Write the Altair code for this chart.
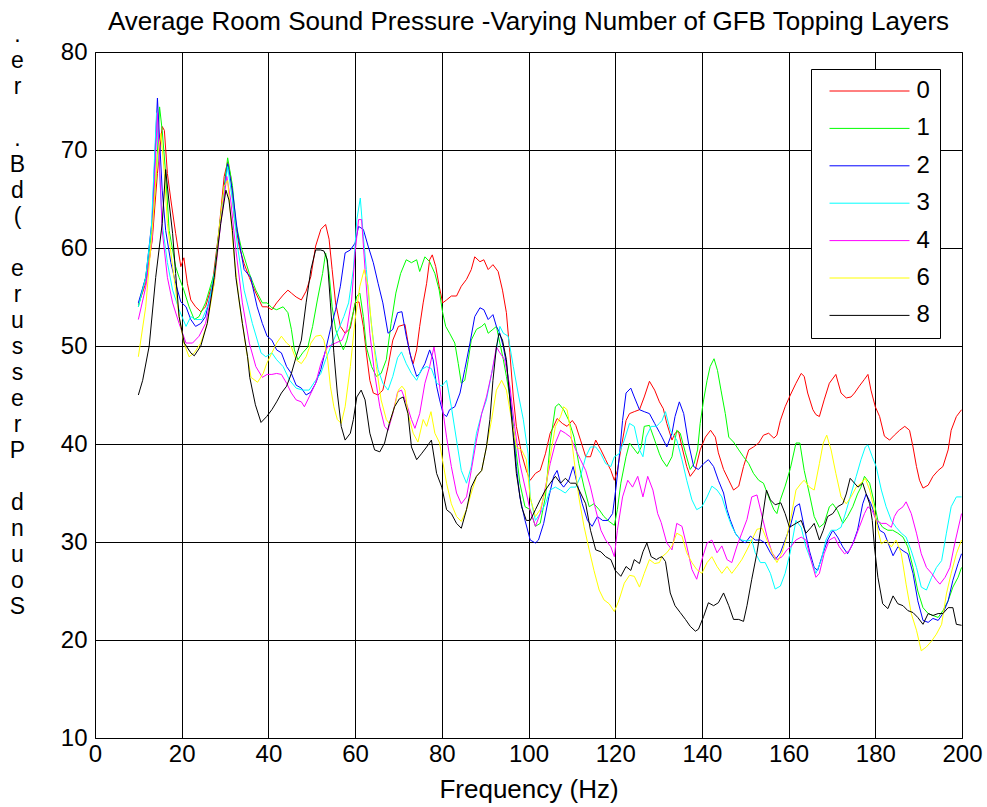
import altair as alt
import pandas as pd

# ---- data (frequency Hz, level dB) ----
S0 = [(10,54.2),(11.7,56.4),(13.2,60.8),(14.4,67.6),(15.5,72.4),(16,72),(16.7,67.6),(17.5,64.9),(18.6,61.5),(19.8,58.1),(20.5,59),(21.3,56.4),(22.1,54.7),(23.2,54),(24.4,53.5),(25.5,54),(27.1,56.4),(28.6,61.8),(29.8,67.3),(30.6,68.8),(31.3,67.3),(32.1,63.2),(33.3,60.1),(34.4,58.4),(35.6,57),(37.1,55.4),(38.6,54),(39.7,54),
      (40.8,53.7),(41.9,54.4),(43.4,55.2),(44.5,55.7),(45.3,55.4),(46.4,55),(47.6,54.7),(48.7,55.6),(49.8,57.1),(50.9,60.2),(52.1,61.9),(53.2,62.4),(54,60.9),(54.7,57.8),(55.5,54.4),(56.6,52),(57.7,51.3),(58.9,51.8),(60,54.4),(60.9,54.5),(61.9,52),(62.6,49.3),(63.4,46.5),(64.2,45.2),(65.3,45),(66.4,45.5),(67.6,47.9),(68.7,50.6),
      (70,52),(71.5,52.2),(72.6,49.3),(73.4,48.2),(74.2,49.6),(74.9,52),(75.7,54.4),(76.5,56.4),(77.2,58.8),(77.8,59.3),(78.6,58.1),(79.4,56.1),(80.2,54.4),(81.1,54.7),(82.2,55.1),(83.4,55.1),(84.5,56.1),(85.7,56.8),(86.8,57.8),(87.6,59.1),(88.8,58.6),(89.7,58.8),(90.7,57.8),(91.8,58.3),(93,57.6),(94,55.7),(94.9,53.4),(95.7,49.3),(96.5,44.8),(97.2,41.8),(98.4,39),(99.5,37.3),
      (100.4,36.3),(101.6,37),(102.7,37.3),(103.9,39),(105,41.1),(105.8,41.8),(106.6,42.6),(107.8,42.1),(108.9,41.8),(110.1,42.4),(110.9,41.9),(112,40.4),(113.2,38.7),(114.3,38.7),(115.5,40.4),(116.7,39.4),(117.8,38.4),(119,37.3),(119.8,36.3),(120.5,37.3),(121.3,39.4),(122.5,42.4),(123.3,43.1),(124.4,43.3),(125.6,43.5),(126.7,44.8),(127.9,46.4),(129.1,45.5),
      (130.2,44.3),(131.1,43.6),(131.9,42.1),(133.1,40.4),(133.8,41.1),(134.6,41.3),(135.4,39.7),(136.5,37.7),(137.3,36.7),(138.5,37.4),(139.6,39.4),(140.8,40.7),(142,41.4),(143.1,40.7),(143.8,39.1),(145,37.4),(146.2,36.3),(147.3,35.3),(148.5,35.7),(149.6,37.7),(150.8,39.4),(151.9,39.7),(153.1,40.1),(154.2,40.9),(155.4,41.1),(156.6,40.6),(157.3,40.9),(158.1,42.4),(159.2,43.8),
      (160.4,45),(161.7,46.2),(162.9,47.2),(163.6,46.9),(164.4,45.2),(165.6,43.5),(166.3,43),(167.1,42.8),(168.2,44.5),(169.4,46.2),(170.9,47.1),(172.1,45.2),(173.3,44.7),(174.4,44.8),(175.2,45.2),(176.3,45.9),(177.5,46.6),(178.3,47.1),(179,45.5),(180,43.8),(181,42.8),(182.1,40.8),(183.3,40.4),(184.4,40.9),(185.6,41.4),(186.8,41.8),(187.9,41.4),(188.7,39.7),(189.5,37.7),(190.2,36.3),(191,35.5),(192.2,35.8),(193.3,36.7),(194.5,37.3),(195.6,37.7),(196.8,39.4),(197.5,41.4),(198.7,42.8),(199.9,43.5)]

S1 = [(10,54),(11.7,57),(13.2,62),(14.2,68),(14.9,74.4),(15.5,72),(16.3,67.6),(17.1,61.8),(18.6,58.1),(19.4,57),(20.5,55.7),(21.7,54),(22.9,52.7),(24,53),(25.5,54.4),(27.5,57.4),(29,63.2),(30.6,69.2),(31.7,66.4),(32.5,62.5),(33.7,60.1),(35.6,57.4),(37.1,55.7),(38.6,54.4),(39.7,54.4),
      (40.8,53.9),(41.9,53.7),(43.4,54),(44.5,53.4),(45.3,51.7),(46,49.6),(46.8,48.6),(47.9,49.3),(49.1,49.9),(50.2,52),(51.3,54.7),(52.5,57.4),(53.2,59.5),(54,57.4),(54.7,54),(55.5,51.7),(56.6,50.3),(57.3,49.6),(58.1,50.6),(59.2,52.7),(60.4,55.1),(61.1,55.4),(61.9,53),(62.6,49.9),(63.8,47.9),(64.9,46.9),(66,47.2),(67.2,48.6),(68.3,52.3),(69.4,55.4),
      (70.5,57.4),(71.8,58.8),(73,58.5),(74.2,58.8),(74.9,57.6),(76.1,59.1),(77.2,58.6),(78.4,57.4),(79.4,55.7),(80.2,53.4),(80.9,52),(81.8,51.3),(83,50.3),(83.8,48.2),(84.5,46.2),(85.3,46.5),(86.1,48.6),(86.8,50.6),(88,51.7),(89.2,52),(89.9,52.3),(90.7,51.3),(91.8,51.7),(92.6,52),(93.4,50.3),(94.2,48.6),(94.9,46.9),(95.7,44.8),(96.5,41.8),(97.2,39),(98,36),(99.2,33.6),
      (100.4,33.3),(101.6,31.6),(102.7,31.9),(103.9,34.6),(105,40.1),(106.2,43.8),(107,44.1),(108.1,43.5),(109.3,42.4),(110.5,40.7),(111.6,38),(112.8,35.6),(114,33.6),(115.1,33.9),(116.3,33.3),(117.4,32.6),(118.6,32.1),(119.8,31.7),(120.5,33.3),(121.3,36),(122.5,38.7),(123.3,40.1),(124,39.7),(125.2,39),(126,39.7),(126.7,41.8),(127.9,41.9),(129.1,40.4),
      (130.2,39),(130.8,38.4),(131.9,37.7),(133.1,38.7),(134.2,41.4),(135,41.1),(136.2,39.1),(137.3,37.4),(138.2,38),(139,39.4),(139.6,42.1),(140.4,44.5),(141.2,46.5),(141.9,47.9),(142.8,48.7),(143.6,47.5),(144.4,45.5),(145.4,43.1),(146.2,40.7),(147.3,40.2),(148.5,39.4),(149.6,38.7),(150.8,38),(151.9,37),(153.1,36.3),(154.2,36),(155.4,34.6),(156.6,33.3),(157.3,32.9),(158.1,34.3),(159.2,35.7),
      (160.4,37.5),(161.7,40.1),(162.6,40.1),(163.6,37.3),(164.8,34.9),(165.9,32.6),(167.1,31.5),(168.2,31.9),(169.4,33.6),(170.2,33.9),(171.3,33.2),(172.5,31.9),(173.6,32.6),(174.8,33.6),(175.9,34.9),(176.7,35.6),(177.5,36.7),(178.7,36),(179.6,34.3),(180.6,32.2),(181.7,31.5),(182.9,31.2),(184,31.2),(185.2,30.9),(186.4,30.5),(187.5,29.5),(188.7,27.4),(189.8,25),(191,23.3),(192.2,22.7),(193.3,22.5),(194.5,22.3),(195.6,23),(196.8,24),(197.9,25.4),(199.1,26.4),(199.9,27.4)]

S2 = [(10,54.4),(11.7,57),(13.2,63),(14.4,75.3),(15.5,65.9),(16.3,61.8),(17.5,58.5),(18.6,56.4),(19.8,54.5),(21,54),(22.1,52.7),(23.2,52),(24.4,52.3),(25.5,53),(27.5,57),(29,63.2),(30.6,68.6),(31.7,65.9),(32.9,61.5),(34.4,57.8),(35.9,57),(37.4,54),(38.6,52.3),(39.7,51),
      (40.8,50.6),(41.9,49.6),(43,49.3),(44.2,47.9),(45.3,47.2),(46.4,46),(47.6,45.7),(48.7,45),(49.8,45.3),(50.9,46.2),(52.1,47.6),(53.2,49.6),(54.3,51.7),(55.5,53.7),(56.6,56.1),(57.7,59.5),(58.9,59.8),(60,60.5),(60.8,62.2),(61.9,61.9),(63,60.2),(64.2,58.5),(65.3,56.4),(66.4,54.4),(67.6,51.3),(68.7,51.7),(69.8,53.4),
      (70.8,53.5),(71.8,51),(73,48.6),(74.2,46.9),(74.9,47.2),(76.1,48.2),(77.2,49.6),(78,48.6),(78.8,45.9),(79.5,44.5),(80.3,43.1),(81.1,42.8),(81.8,43.5),(83,43.8),(84.2,45.2),(85.3,47.6),(86.5,50.3),(87.6,53),(88.8,53.9),(89.7,53.7),(90.7,52.7),(91.8,53.2),(92.6,52),(93.4,51.3),(94.2,49.9),(94.9,48.2),(95.7,45.2),(96.5,41.4),(97.2,37.7),(98,34.6),(99.2,32.2),
      (100.4,30.2),(101.6,29.9),(102.3,30.2),(103.5,31.9),(104.7,34.6),(105.8,36.7),(106.6,37.3),(107.4,36),(108.1,35.6),(109.3,36.3),(110.3,37.7),(111.2,36),(112.4,33.9),(113.6,32.2),(114.7,31.6),(115.9,32.6),(117.1,32.2),(118.3,32.2),(119.4,32.9),(120.2,35.6),(121,39),(121.7,42.4),(122.5,45.2),(123.6,45.7),(124.4,44.8),(125.6,43.5),(126.7,43.3),(127.9,43.1),(129.1,42.1),
      (130.2,41.2),(130.8,40.7),(131.9,39.7),(133.1,41.1),(133.8,42.8),(134.8,44.3),(135.8,43.1),(136.9,40.1),(138.1,37.7),(139.2,37.4),(140.4,38),(141.5,38.4),(142.7,37.7),(143.8,36.3),(145,35),(145.8,33.3),(146.5,32.3),(147.7,30.9),(148.9,30.2),(150,29.9),(151.2,30.6),(152.3,30.2),(153.5,30.2),(154.6,29.9),(155.8,28.9),(156.9,28.2),(158.1,28.9),(159.2,30.2),
      (160.4,31.6),(161.5,33.6),(162.5,33.9),(163.6,31.5),(164.8,29.1),(165.9,27.4),(166.7,27.1),(167.9,28.8),(169,30.2),(170.2,31.2),(171.3,30.5),(172.5,29.5),(173.6,28.8),(174.8,29.8),(175.9,31.2),(177.1,33.9),(177.9,34.9),(179,33.9),(179.8,32.9),(181,31.2),(182.1,30.9),(183.3,29.5),(184.1,28.6),(185.2,29.5),(186.4,29.1),(187.5,28.8),(188.7,26.8),(189.8,24),(191,22),(192.2,21.8),(193.3,22.2),(194.5,22),(195.6,22.7),(196.8,24),(197.9,26.1),(199.1,27.8),(199.9,28.8)]

S3 = [(10,54),(11.7,57),(13,62),(14.2,73.8),(15.5,62.5),(16.7,58.5),(17.9,55.7),(19.4,53.7),(21,52),(22.1,53),(23.2,52.7),(24.7,52.7),(26.3,54.4),(27.8,58.1),(29.3,63.9),(30.6,68.3),(31.7,64.9),(32.9,60.1),(34.4,55.7),(36.3,52.3),(38.3,49.3),(39.4,48.9),
      (40.8,49.3),(41.9,48.6),(43.4,47.9),(44.9,46.5),(46.4,45.7),(47.9,45.5),(49.4,45.5),(50.9,46.5),(52.1,47.2),(53.2,48.6),(54.7,50.3),(56.2,51.7),(57.4,53),(58.5,54.4),(59.6,57.8),(60.4,62.9),(61.2,65.1),(61.9,61.2),(62.6,57.8),(63.4,53.7),(64.2,50.6),(65.3,47.6),(66.4,46.2),(67.6,45.5),(68.7,46.9),(69.8,48.8),
      (70.7,49.4),(71.8,48.2),(73,47.2),(74.2,46.5),(75.3,47.6),(76.5,47.9),(77.6,47.7),(78.8,46.2),(80,45.9),(81.1,46.5),(82.2,43.8),(83.4,40.4),(84.5,37.3),(85.7,36),(86.8,37.7),(88,41.1),(89.2,43.1),(90.3,44.5),(91.5,47.2),(92.6,49.6),(93.4,52),(94.2,51.3),(95.3,51),(96.5,47.9),(97.6,45.2),(98.8,42.5),(99.9,39),
      (100.4,34.6),(101.6,32.2),(102.7,32.9),(103.9,33.9),(105,35.3),(106.2,35.6),(107.4,35.3),(108.5,35),(109.7,35.6),(110.9,35.6),(112,36.7),(113.2,38.7),(114.3,39.7),(115.5,39.7),(116.7,39),(117.8,38),(119,37.7),(119.8,38.7),(120.9,39),(122.1,40.4),(123.3,42.1),(124.4,41.8),(125.6,39.4),(126.4,38.7),(127.1,40.7),(128.3,41.8),(129.5,41.8),
      (130.2,42.1),(130.8,42.4),(131.6,43.3),(132.7,41.4),(134.2,40.4),(135.4,38.4),(136.5,36.3),(137.7,34.3),(138.8,33.3),(140,33.6),(141.2,34.6),(142.3,35.7),(143.5,35.3),(144.6,34.6),(145.8,32.9),(146.9,31.6),(148.1,30.6),(149.2,30.2),(150.4,30.1),(151.5,30.2),(152.3,28.9),(153.5,27.9),(154.6,27.9),(155.8,26.8),(156.9,25.2),(158.1,25.5),(159.2,26.8),
      (160.4,29),(161.7,32.2),(162.9,31.5),(164,29.5),(165.2,28.1),(166.3,26.8),(167.5,28.1),(168.6,30.2),(169.8,31.2),(171,31.2),(172.1,31.5),(173.3,33.2),(174.4,34.9),(175.6,36.7),(176.7,38.4),(177.7,39.7),(178.3,39.9),(179.3,38.7),(180.2,37.7),(181.4,35.3),(182.5,33.6),(183.7,32.2),(184.8,31.5),(186,30.9),(187.1,30.5),(188.3,29.1),(189.5,27.4),(190.6,25.4),(191.8,25.1),(193,26.4),(194.1,27.4),(195.3,28.1),(196.4,30.9),(197.5,33.6),(198.7,34.6),(199.9,34.6)]

S4 = [(10,52.7),(11.7,56),(13.2,61),(14.4,73.8),(15.5,61.8),(16.7,57),(17.9,54.4),(19.4,52.3),(21,50.3),(22.5,50.3),(24,51),(25.5,52.3),(27.5,56.4),(29,62.5),(30.4,67.3),(31.3,64.9),(32.5,59.8),(34,54.4),(35.6,50.3),(37.1,47.9),(38.6,46.8),(39.7,47.1),
      (40.8,47.1),(41.9,47.2),(43,47.1),(44.2,46.2),(45.3,45.2),(46.4,44.5),(47.6,44.3),(48.3,43.8),(49.4,44.8),(50.9,46.2),(52.1,48.2),(53.6,49.9),(55.5,50.3),(57,50.6),(58.1,51.7),(59.2,54.7),(60,59.5),(60.8,62.9),(61.5,62.9),(62.3,57.8),(63.4,51.3),(64.5,47.2),(65.7,43.8),(66.8,41.8),(67.6,41.4),(68.7,43.1),(69.8,45.3),
      (70.7,45.5),(71.8,44.2),(73,42.5),(73.8,41.6),(74.9,43.1),(76.1,46.2),(77.2,47.9),(78.2,49.9),(78.9,47.9),(79.9,44.5),(81.1,40.7),(82.2,37.7),(83.4,35),(84.5,33.9),(85.7,34.6),(86.8,37.3),(88,40.4),(89.2,43.1),(90.3,44.8),(91.5,47.2),(92.6,49.9),(93.4,49.3),(94.5,48.6),(95.7,45.9),(96.8,41.8),(98,38),(99.5,35),
      (100.4,33.2),(101.6,31.6),(102.7,32.9),(103.9,35.6),(105,38),(106.2,40.1),(107.4,41.4),(108.5,41.1),(109.7,40.7),(110.9,39.4),(112,38.4),(113.2,37.3),(114.3,35.6),(115.5,33.3),(116.7,31.2),(117.8,30.2),(119,29.5),(119.8,28.5),(120.5,31.2),(121.7,34.6),(122.9,36.3),(124,35.6),(125.2,36.7),(126.4,34.6),(127.5,36.7),(128.7,35.3),(129.8,32.9),
      (130.6,32),(131.9,29.9),(133.1,29.2),(134.2,31.9),(135.4,31.6),(136.5,29.6),(137.7,27.2),(138.8,26.2),(140,28.2),(141.2,29.9),(142.3,30.2),(143.5,28.9),(144.6,29.6),(145.8,28.2),(146.9,27.9),(148.1,29.6),(149.2,30.9),(150.4,32.3),(151.5,34.6),(152.7,34.8),(153.9,32.6),(155,30.6),(156.2,28.9),(157.3,28.2),(158.5,28.5),(159.6,29.2),
      (160.5,29.5),(161.7,30.2),(162.9,30.5),(164,30.2),(165.2,28.1),(166.3,26.4),(167.1,26.8),(168.2,28.8),(169.4,30.2),(170.6,30.5),(171.7,29.5),(172.9,28.8),(174,29.1),(175.2,30.2),(176.3,31.5),(177.5,32.9),(178.3,33.6),(179.3,33.2),(180.2,32.2),(181.4,31.9),(182.5,31.9),(183.7,31.5),(184.4,32.6),(185.2,33.2),(186.4,33.6),(187.1,34.1),(188.3,32.9),(189.5,30.9),(190.6,28.8),(191.8,27.4),(193,26.8),(194.1,26.1),(194.9,25.7),(196.1,26.4),(197.2,27.4),(198.3,29.8),(199.9,32.9)]

S6 = [(10,48.9),(11.7,54),(13.2,61.8),(14.4,69.3),(15.2,71.7),(16,67.6),(16.7,62.5),(17.9,58.1),(19.4,53),(20.5,50.3),(21.7,48.9),(22.9,49.3),(24.4,50.3),(25.9,52.3),(27.5,56.4),(28.6,61.8),(29.8,66.3),(30.6,66.9),(31.3,63.2),(32.1,59.1),(33.3,54.4),(34.9,49.6),(36,46.8),(37.5,46.3),(38.8,47.2),(39.6,48.2),
      (40.8,49.3),(41.9,50.3),(43,51),(44.2,50.3),(45.3,49.9),(46.4,48.6),(47.6,48.2),(48.7,48.9),(49.8,50.3),(50.9,51),(52.1,51.1),(52.8,50.6),(53.6,48.9),(54.3,45.9),(55.1,43.8),(55.9,42.5),(56.8,42.1),(57.7,43.8),(58.9,47.9),(60,52.7),(61.1,56.1),(62.1,57.8),(63,56.1),(63.8,52),(64.9,47.9),(66,44.5),(67.2,42.5),(67.9,42.1),(69.1,43.8),
      (70,45.5),(70.8,45.9),(71.5,45.5),(72.2,43.1),(73.4,41.1),(74.5,40.2),(75.7,42.5),(76.5,41.8),(77.5,43.3),(78.4,41.1),(79.5,40.1),(80.3,38),(81.1,36),(82.2,33.9),(83.4,32.6),(84.5,32.1),(85.7,33.3),(86.8,35),(88,36.7),(89.2,37.3),(90.3,39.7),(91.5,42.5),(92.6,45.5),(93.8,46.5),(94.9,45.5),(96.1,42.5),(97.2,39.7),(98.4,39.4),(99.5,38.4),
      (100.4,34.5),(101.6,32.6),(102.7,33.3),(103.9,35.3),(105,38.7),(106.2,41.8),(107.4,42.8),(108.1,43.8),(108.9,43.5),(109.7,41.4),(110.5,38.4),(111.6,34.6),(112.8,31.6),(114,29.2),(115.1,27.1),(116.3,25.1),(117.4,24.1),(118.6,23.7),(119.8,22.9),(120.9,24.1),(122.1,25.8),(123.3,26.6),(124.4,26.5),(125.6,25.4),(126.7,26.8),(127.9,28.2),(129.1,27.8),
      (130.2,27.9),(130.8,28.5),(131.9,28.9),(133.1,29.6),(134.2,30.9),(135.4,30.6),(136.5,28.9),(137.7,27.9),(138.8,27.2),(140,26.8),(141.2,27.9),(142.3,28.5),(143.5,27.5),(144.6,26.8),(145.8,27.5),(146.9,26.8),(148.1,27.5),(149.2,28.2),(150.4,29.2),(151.5,30.2),(152.7,31.3),(153.9,31.4),(155,30.2),(156.2,28.9),(157.3,27.9),(158.5,28.9),(159.6,30.6),
      (160.5,32.4),(161.7,35.3),(162.9,36),(163.6,36.3),(164.8,35.6),(165.9,35.3),(167.1,38),(168,40.1),(168.8,40.9),(169.8,39.4),(170.9,37),(172.1,34.6),(173.3,33.9),(174.4,34.6),(175.6,35.6),(176.7,36),(177.7,36.5),(178.7,35.3),(179.6,33.6),(180.6,31.2),(181.4,29.8),(182.5,30.2),(183.7,29.5),(184.8,30.2),(186,28.8),(187.1,25.7),(188.3,22.7),(189.5,21),(190.6,18.9),(191.8,19.3),(193,19.9),(194.1,20.6),(195.3,21.6),(196.4,24.7),(197.5,26.8),(198.7,28.8),(199.9,30.2)]

S8 = [(10,45),(11,46.5),(12.5,50),(14,57),(15.5,62.5),(16.3,68),(17,65),(17.9,61.5),(18.6,57.4),(19.4,53),(20.6,50.3),(22.1,49.3),(22.9,49),(24.4,50),(25.9,52.3),(27.5,57),(29,62.5),(30.2,65.9),(30.9,64.9),(31.7,61.8),(32.5,57),(34,52.3),(35.2,48.9),(35.7,46.8),(37,44),(38.3,42.2),(39.6,42.8),
      (40.8,43.5),(41.9,44.3),(43,45.2),(44.2,45.9),(45.3,47.2),(46.4,48.9),(47.6,50.6),(48.7,54.4),(49.8,57.8),(50.9,59.8),(52,59.8),(52.8,59.7),(53.6,58.8),(54.3,54.4),(55.1,49.3),(55.9,45.2),(56.8,41.8),(57.7,40.4),(58.9,41.1),(59.6,42.5),(60.4,44.8),(61.4,45.5),(62.3,44.5),(63.4,41.1),(64.5,39.4),(65.7,39.2),(66.8,40.1),(67.9,42.1),(69.1,43.8),
      (70.2,44.6),(71.1,44.8),(72.2,43.1),(73,39.7),(74.2,38.4),(75.3,39),(76.5,39.7),(77.6,40.4),(78.8,37),(80,35.6),(81.1,33.3),(82.2,32.9),(83.4,31.9),(84.5,31.4),(85.7,33.3),(86.8,35.6),(88,36.7),(89.2,37.3),(90.3,39.7),(91.1,42.5),(91.8,46.5),(92.6,49.9),(93.2,51.3),(94,50.6),(94.9,48.6),(95.7,44.5),(96.5,40.7),(97.2,37),(98.4,33.6),(99.5,32.2),
      (100.4,32.2),(101.6,33.3),(102.7,34.3),(103.9,35.3),(105,36),(106.2,36.7),(107.4,36),(108.5,36.5),(109.7,36),(110.9,36),(112,35),(113.2,33.9),(114.3,31.2),(115.5,29.2),(116.7,29),(117.8,28.5),(119,28.2),(120,27.1),(121.3,26.5),(122.5,27.5),(123.6,27.1),(124.4,28.2),(125.6,27.8),(126.4,29),(127.3,29.9),(128.3,28.5),(129.5,28.2),
      (130.2,28.4),(130.8,28.5),(131.6,28),(132.7,24.8),(133.8,23.5),(135,22.8),(136.2,22.1),(137.3,21.4),(138.5,20.9),(139.2,21.1),(140.4,22.4),(141.5,23.8),(142.7,23.5),(143.8,23.8),(145,24.8),(146.2,23.5),(147.3,22.1),(148.5,22.1),(149.6,21.9),(150.4,23.5),(151.5,26.2),(152.7,28.9),(153.9,32.3),(154.9,35.3),(155.8,34.3),(156.9,33.8),(158.2,34),(159.2,32.9),
      (160.2,31.5),(161.7,31.9),(162.9,32.2),(164,30.9),(165.2,31.5),(165.9,31.9),(167.1,30.2),(168,31.2),(169,32.6),(170.2,32.9),(171.3,33.6),(172.5,33.9),(173.3,34.9),(174.2,36.5),(175.2,36),(176,35.6),(177.1,36),(177.9,34.9),(178.7,33.9),(179.3,32.2),(179.8,29.5),(180.6,26.4),(181.7,23.7),(182.9,23.2),(184.1,24.5),(185.2,23.7),(186.4,23.5),(187.5,23),(188.7,22.8),(189.8,22.3),(191,21.6),(192.2,22.7),(193.3,22.5),(194.5,22.7),(195.6,22.7),(196.8,23.3),(197.9,23.3),(198.7,21.6),(199.9,21.5)]

LAYERS = ["0", "1", "2", "3", "4", "6", "8"]
SERIES = [S0, S1, S2, S3, S4, S6, S8]
COLORS = ["#ff0000", "#00ff00", "#0000ff", "#00ffff", "#ff00ff", "#ffff00", "#000000"]
X_TICKS = list(range(0, 201, 20))
Y_TICKS = list(range(10, 81, 10))
BLANK = "\u2800"  # blank placeholder row (keeps the empty line's height)
Y_TITLE = [".", "e", "r", BLANK, ".", "B", "d", "(", BLANK, "e", "r", "u", "s", "s", "e", "r", "P", BLANK,
           "d", "n", "u", "o", "S"]

rows = []
for name, pts in zip(LAYERS, SERIES):
    for i, (f, v) in enumerate(pts):
        rows.append({"layers": name, "freq": f, "spl": v, "order": i})
df = pd.DataFrame(rows)

FONT = "Liberation Sans"

chart = alt.Chart(df).mark_line(strokeWidth=1, clip=True).encode(
    x=alt.X("freq:Q",
            scale=alt.Scale(domain=[0, 200], nice=False, zero=False),
            axis=alt.Axis(values=X_TICKS, title="Frequency (Hz)", grid=True, ticks=False,
                          domain=False, labelPadding=4, titlePadding=10, titleFontSize=26,
                          labelFlush=False)),
    y=alt.Y("spl:Q",
            scale=alt.Scale(domain=[10, 80], nice=False, zero=False),
            axis=alt.Axis(values=Y_TITLE and Y_TICKS, title=Y_TITLE, titleAngle=0, titleX=-78, titleY=-29,
                          titleAlign="center", titleBaseline="top", titleLineHeight=26,
                          titleFontSize=23, grid=True, ticks=False, domain=False,
                          labelPadding=8, labelFlush=False)),
    color=alt.Color("layers:N",
                    scale=alt.Scale(domain=LAYERS, range=COLORS),
                    legend=alt.Legend(title=None, orient="none", legendX=716, legendY=17,
                                      symbolType="M-1,0H7", symbolSize=400, symbolStrokeWidth=1,
                                      labelFontSize=24, labelFont=FONT, labelColor="black",
                                      strokeColor="black", fillColor="white", padding=10,
                                      symbolOffset=6.5, labelOffset=65, rowPadding=13.4)),
    order="order:Q",
).properties(
    width=867, height=686,
    background="white",
    title=alt.TitleParams("Average Room Sound Pressure -Varying Number of GFB Topping Layers",
                          fontSize=26, font=FONT, fontWeight="normal", color="black",
                          offset=16, dy=28),
    autosize=alt.AutoSizeParams(type="none"),
    padding={"left": 95, "top": 52, "right": 25, "bottom": 69},
).configure_axis(
    gridColor="black", gridOpacity=1, gridWidth=1,
    labelFont=FONT, labelFontSize=24, labelColor="black",
    titleFont=FONT, titleFontSize=24, titleFontWeight="normal", titleColor="black",
).configure_view(
    stroke="black", strokeWidth=1,
)

chart.save("out.html", embed_options={"renderer": "svg", "actions": False})
